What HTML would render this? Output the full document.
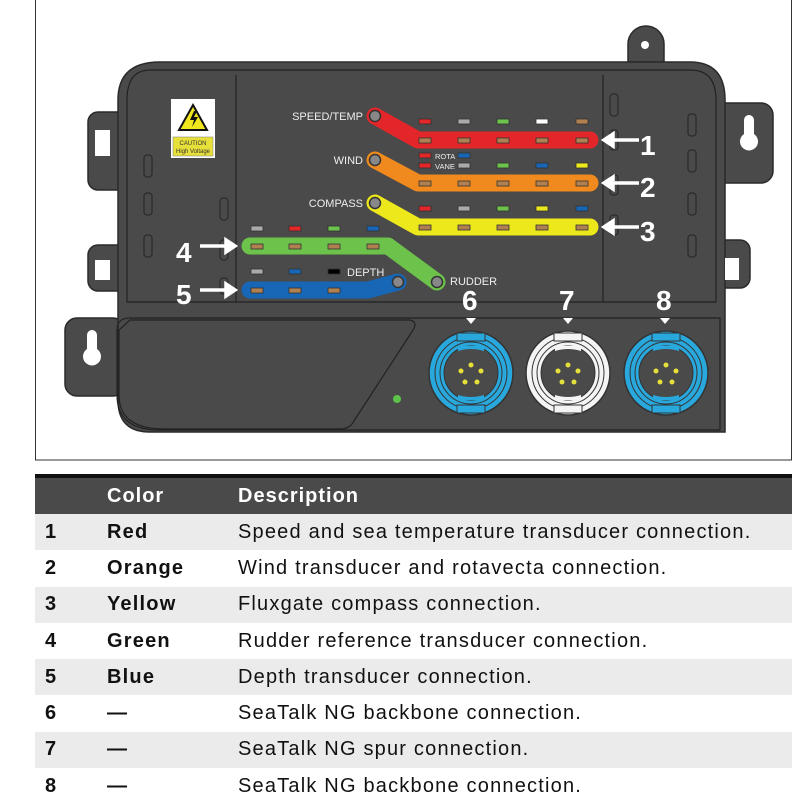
<!DOCTYPE html>
<html><head><meta charset="utf-8"><style>
body{margin:0;background:#fff;width:800px;height:800px;overflow:hidden;font-family:"Liberation Sans",sans-serif}
svg{position:absolute;left:0;top:0}
table{position:absolute;left:35px;top:474px;width:757px;border-collapse:collapse;font-size:20px;letter-spacing:1.2px;color:#111}
th{background:#4a4a4a;color:#fff;text-align:left;font-weight:bold;font-size:20px;letter-spacing:1px;height:36px;padding:0;border-top:4px solid #111}
td{height:36.3px;padding:0}
tr:nth-child(even) td{background:#ebebeb}
.n{width:62px;padding-left:10px;font-weight:bold}
.c{width:131px;font-weight:bold}
</style></head><body>
<svg width="800" height="470" viewBox="0 0 800 470">
<defs>
<g id="conn">
<circle r="42" fill="currentColor" stroke="#333" stroke-width="1.5"/>
<circle r="36" fill="none" stroke="#333" stroke-width="1"/>
<circle r="31" fill="none" stroke="#333" stroke-width="1"/>
<circle r="27" fill="#4a4a4a" stroke="#333"/>
<rect x="-14" y="-40" width="28" height="8" fill="currentColor" stroke="#333"/>
<rect x="-14" y="32" width="28" height="8" fill="currentColor" stroke="#333"/>
<path d="M-13 -27 h26 v5 q-13 -4 -26 0z" fill="currentColor"/>
<path d="M-13 27 h26 v-5 q-13 4 -26 0z" fill="currentColor"/>
<g fill="#e8e03a"><circle cx="0" cy="-8" r="2.5"/><circle cx="-10" cy="-2" r="2.5"/><circle cx="10" cy="-2" r="2.5"/><circle cx="-6" cy="9" r="2.5"/><circle cx="6" cy="9" r="2.5"/></g>
</g>
</defs>
<rect x="35.5" y="-2" width="756" height="462" fill="none" stroke="#333" stroke-width="1"/>
<g fill="#4a4a4a" stroke="#2a2a2a" stroke-width="1.5">
<path d="M628 62 v-18 a18 18 0 0 1 36 0 v18z"/>
<rect x="88" y="112" width="40" height="78" rx="10"/>
<rect x="88" y="245" width="40" height="46" rx="10"/>
<rect x="700" y="103" width="73" height="80" rx="12"/>
<rect x="700" y="240" width="50" height="48" rx="10"/>
<rect x="65" y="318" width="60" height="78" rx="12"/>
<path d="M160 62 H690 Q725 62 725 100 V432 H150 Q118 432 118 400 V100 Q118 62 160 62z"/>
</g>
<g fill="#fff">
<circle cx="645" cy="45" r="4"/>
<rect x="95" y="130" width="15" height="26"/>
<rect x="95" y="260" width="15" height="20"/>
<rect x="725" y="258" width="14" height="22"/>
<path d="M744 120 a5 5 0 0 1 10 0 v14 a9 9 0 1 1 -10 0z"/>
<path d="M87 335 a5 5 0 0 1 10 0 v14 a9 9 0 1 1 -10 0z"/>
</g>
<g fill="none" stroke="#222" stroke-width="1.2">
<path d="M150 70 H690 Q716 70 716 100 V302 H127 V100 Q127 70 150 70z"/>
<line x1="236" y1="75" x2="236" y2="302"/>
<line x1="603" y1="75" x2="603" y2="302"/>
<path d="M130 318 H720 V430 H160 Q117 430 117 395 V330 Q117 318 130 318z"/>
<path d="M130 320 H410 Q418 322 413 330 L352 424 Q348 429 340 429 H165 Q119 429 119 395 V330z"/>
<g stroke="#2a2a2a"><rect x="144" y="155" width="8" height="22" rx="3"/><rect x="144" y="193" width="8" height="22" rx="3"/><rect x="144" y="235" width="8" height="22" rx="3"/><rect x="220" y="198" width="8" height="22" rx="3"/><rect x="220" y="240" width="8" height="20" rx="3"/><rect x="220" y="278" width="8" height="16" rx="3"/>
<rect x="610" y="94" width="8" height="22" rx="3"/><rect x="610" y="130" width="8" height="20" rx="3"/><rect x="610" y="175" width="8" height="20" rx="3"/><rect x="610" y="215" width="8" height="20" rx="3"/>
<rect x="688" y="114" width="8" height="22" rx="3"/><rect x="688" y="150" width="8" height="22" rx="3"/><rect x="688" y="193" width="8" height="22" rx="3"/><rect x="688" y="235" width="8" height="22" rx="3"/></g>
</g>
<rect x="171" y="99" width="44" height="59" fill="#fff"/>
<path d="M193 105 L207 130 H179z" fill="#f0e61e" stroke="#111" stroke-width="2"/>
<path d="M194 111 l-4 9 h4 l-2 7 l6 -10 h-4 l3 -6z" fill="#111"/>
<rect x="173" y="137" width="40" height="19" fill="#e8e03a" stroke="#777" stroke-width=".5"/>
<text x="193" y="145" font-size="6" text-anchor="middle" fill="#333">CAUTION</text>
<text x="193" y="153" font-size="6" text-anchor="middle" fill="#333">High Voltage</text>
<g fill="none" stroke-linecap="round" stroke-linejoin="round" stroke-width="17">
<path d="M375 116 L418 140 H590" stroke="#e3262a"/>
<path d="M375 160 L418 183 H590" stroke="#f08a1e"/>
<path d="M375 203 L418 227 H590" stroke="#ede81c"/>
<path d="M250 246 H388 L437 282" stroke="#6cc24a"/>
<path d="M250 290 H368 L398 282" stroke="#1866b6"/>
</g>
<g fill="#888" stroke="#333" stroke-width="1.5">
<circle cx="375" cy="116" r="5.5"/><circle cx="375" cy="160" r="5.5"/><circle cx="375" cy="203" r="5.5"/><circle cx="437" cy="282" r="5.5"/><circle cx="398" cy="282" r="5.5"/>
</g>
<g stroke="#333" stroke-width=".8" fill="#b08050">
<rect x="419" y="138" width="12" height="5"/><rect x="458" y="138" width="12" height="5"/><rect x="497" y="138" width="12" height="5"/><rect x="536" y="138" width="12" height="5"/><rect x="576" y="138" width="12" height="5"/>
<rect x="419" y="181" width="12" height="5"/><rect x="458" y="181" width="12" height="5"/><rect x="497" y="181" width="12" height="5"/><rect x="536" y="181" width="12" height="5"/><rect x="576" y="181" width="12" height="5"/>
<rect x="419" y="225" width="12" height="5"/><rect x="458" y="225" width="12" height="5"/><rect x="497" y="225" width="12" height="5"/><rect x="536" y="225" width="12" height="5"/><rect x="576" y="225" width="12" height="5"/>
<rect x="251" y="244" width="12" height="5"/><rect x="289" y="244" width="12" height="5"/><rect x="328" y="244" width="12" height="5"/><rect x="367" y="244" width="12" height="5"/>
<rect x="251" y="288" width="12" height="5"/><rect x="289" y="288" width="12" height="5"/><rect x="328" y="288" width="12" height="5"/>
<rect x="419" y="119" width="12" height="5" fill="#e3262a"/><rect x="458" y="119" width="12" height="5" fill="#aaa"/><rect x="497" y="119" width="12" height="5" fill="#6cc24a"/><rect x="536" y="119" width="12" height="5" fill="#fff"/><rect x="576" y="119" width="12" height="5" fill="#b08050"/>
<rect x="419" y="153" width="12" height="5" fill="#e3262a"/><rect x="458" y="153" width="12" height="5" fill="#1866b6"/>
<rect x="419" y="163" width="12" height="5" fill="#e3262a"/><rect x="458" y="163" width="12" height="5" fill="#aaa"/><rect x="497" y="163" width="12" height="5" fill="#6cc24a"/><rect x="536" y="163" width="12" height="5" fill="#1866b6"/><rect x="576" y="163" width="12" height="5" fill="#ede81c"/>
<rect x="419" y="206" width="12" height="5" fill="#e3262a"/><rect x="458" y="206" width="12" height="5" fill="#aaa"/><rect x="497" y="206" width="12" height="5" fill="#6cc24a"/><rect x="536" y="206" width="12" height="5" fill="#ede81c"/><rect x="576" y="206" width="12" height="5" fill="#1866b6"/>
<rect x="251" y="226" width="12" height="5" fill="#aaa"/><rect x="289" y="226" width="12" height="5" fill="#e3262a"/><rect x="328" y="226" width="12" height="5" fill="#6cc24a"/><rect x="367" y="226" width="12" height="5" fill="#1866b6"/>
<rect x="251" y="269" width="12" height="5" fill="#aaa"/><rect x="289" y="269" width="12" height="5" fill="#1866b6"/><rect x="328" y="269" width="12" height="5" fill="#000"/>
</g>
<g fill="#eee" font-size="11">
<text x="363" y="120" text-anchor="end">SPEED/TEMP</text>
<text x="363" y="164" text-anchor="end">WIND</text>
<text x="363" y="207" text-anchor="end">COMPASS</text>
<text x="347" y="276">DEPTH</text>
<text x="450" y="285">RUDDER</text>
<text x="435" y="159" font-size="7.5">ROTA</text>
<text x="435" y="169" font-size="7.5">VANE</text>
</g>
<g fill="#fff" font-weight="bold" font-size="28">
<text x="640" y="155">1</text><text x="640" y="197">2</text><text x="640" y="241">3</text>
<text x="176" y="262">4</text><text x="176" y="304">5</text>
<text x="462" y="310">6</text><text x="559" y="310">7</text><text x="656" y="310">8</text>
</g>
<g stroke="#fff" stroke-width="3.5" fill="#fff">
<line x1="639" y1="140" x2="612" y2="140"/><path d="M604 140 l9 -6 v12z"/>
<line x1="639" y1="183" x2="612" y2="183"/><path d="M604 183 l9 -6 v12z"/>
<line x1="639" y1="227" x2="612" y2="227"/><path d="M604 227 l9 -6 v12z"/>
<line x1="200" y1="246" x2="226" y2="246"/><path d="M235 246 l-9 -6 v12z"/>
<line x1="200" y1="290" x2="226" y2="290"/><path d="M235 290 l-9 -6 v12z"/>
</g>
<g fill="#fff"><path d="M466 318 h10 l-5 6z"/><path d="M563 318 h10 l-5 6z"/><path d="M660 318 h10 l-5 6z"/></g>
<use href="#conn" x="471" y="373" style="color:#29a8dd"/>
<use href="#conn" x="568" y="373" style="color:#f4f4f4"/>
<use href="#conn" x="666" y="373" style="color:#29a8dd"/>
<circle cx="397" cy="399" r="4" fill="#5cc24a"/>
</svg>
<table>
<tr><th class="n"></th><th class="c">Color</th><th>Description</th></tr>
<tr><td class="n">1</td><td class="c">Red</td><td>Speed and sea temperature transducer connection.</td></tr>
<tr><td class="n">2</td><td class="c">Orange</td><td>Wind transducer and rotavecta connection.</td></tr>
<tr><td class="n">3</td><td class="c">Yellow</td><td>Fluxgate compass connection.</td></tr>
<tr><td class="n">4</td><td class="c">Green</td><td>Rudder reference transducer connection.</td></tr>
<tr><td class="n">5</td><td class="c">Blue</td><td>Depth transducer connection.</td></tr>
<tr><td class="n">6</td><td class="c">—</td><td>SeaTalk NG backbone connection.</td></tr>
<tr><td class="n">7</td><td class="c">—</td><td>SeaTalk NG spur connection.</td></tr>
<tr><td class="n">8</td><td class="c">—</td><td>SeaTalk NG backbone connection.</td></tr>
</table>
</body></html>
